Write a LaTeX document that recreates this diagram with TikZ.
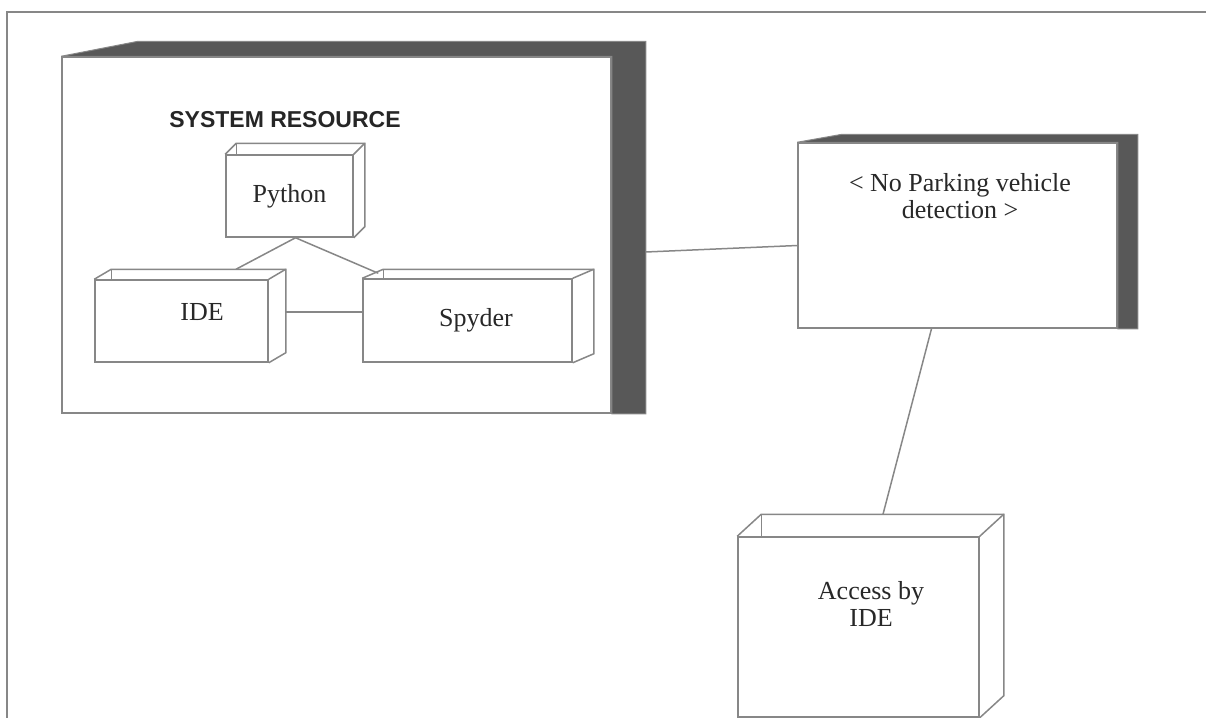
\documentclass[tikz,border=0pt]{standalone}
\usepackage{fontspec}
\setmainfont{Liberation Serif}
\newfontfamily\sysfont{Liberation Sans}
\usetikzlibrary{calc}
\definecolor{linec}{RGB}{135,135,135}
\definecolor{darkc}{RGB}{88,88,88}
\definecolor{textc}{RGB}{40,40,40}
\tikzset{
  edge/.style={draw=linec, line width=0.75pt},
  box/.style={edge, fill=white, inner sep=0pt, text=textc, font=\fontsize{13}{13.8}\selectfont, align=center},
  bignode/.style={draw=linec, line width=0.75pt, fill=white, inner sep=0pt},
  darkside/.style={fill=darkc, draw=linec, line width=0.5pt},
  border/.style={draw=linec, line width=1.2pt},
  conn/.style={edge},
  lbl/.style={text=textc, font=\fontsize{13}{13.8}\selectfont, align=center},
}
\newcommand\threed[3]{%
  \draw[edge] (#1.north west) -- ++(#2,#3) coordinate (#1bl) -- ($(#1.north east)+(#2,#3)$) -- ($(#1.south east)+(#2,#3)$) -- (#1.south east);
  \draw[edge] (#1.north east) -- ++(#2,#3);
  \draw[edge] (#1bl) -- (#1bl |- #1.north);
}
\begin{document}
\begin{tikzpicture}[x=0.5pt,y=-0.5pt]
\useasboundingbox (0,0) rectangle (1206,718);
% outer frame (top and left only)
\draw[border] (7,718) -- (7,12) -- (1206,12);

% big node: system resource
\node[bignode, minimum width=274.5pt, minimum height=178pt] (sys) at (336.5,235) {};
\fill[darkside] (sys.north west) -- ++(77,-15) -- ($(sys.north east)+(34,-15)$) -- ($(sys.south east)+(34,0)$) -- (sys.south east) -- (sys.north east) -- cycle;
\node[font=\sysfont\bfseries\fontsize{11.5}{13}\selectfont, text=black!85] (sysT) at (285,120) {SYSTEM RESOURCE};

% inner boxes
\node[box, minimum width=63.5pt, minimum height=41pt] (py) at (289.5,196) {Python};
\threed{py}{11}{-11}
\node[box, minimum width=86.5pt, minimum height=41pt,
      label={[lbl, xshift=10.25pt, yshift=4.5pt]center:IDE}] (ide) at (181.5,321) {};
\threed{ide}{17}{-10}
\node[box, minimum width=104.5pt, minimum height=41.5pt,
      label={[lbl, xshift=4.25pt]center:Spyder}] (sp) at (467.5,320.5) {};
\threed{sp}{21}{-9}

% right node
\node[bignode, minimum width=159.5pt, minimum height=92.5pt,
      label={[lbl, xshift=1.25pt, yshift=19.75pt]center:{< No Parking vehicle\\ detection >}}] (np) at (957.5,235.5) {};
\fill[darkside] (np.north west) -- ++(45,-8) -- ($(np.north east)+(20,-8)$) -- ($(np.south east)+(20,0)$) -- (np.south east) -- (np.north east) -- cycle;

% access node
\node[box, minimum width=120.5pt, minimum height=90pt,
      label={[lbl, xshift=6.25pt, yshift=11.5pt]center:{Access by\\ IDE}}] (acc) at (858.5,627) {};
\threed{acc}{24}{-22}

% connectors
\draw[conn] ([xshift=3pt]py.south) -- ([xshift=27.25pt,yshift=5pt]ide.north);
\draw[conn] ([xshift=3pt]py.south) -- ([xshift=8pt,yshift=2.5pt]sp.north west);
\draw[conn] ([xshift=8pt,yshift=4.5pt]ide.east) -- ([yshift=4.25pt]sp.west);
\draw[conn] ($(sys.east)+(34,17)$) -- ([yshift=-5pt]np.west);
\draw[conn] ([xshift=-13pt]np.south) -- ([xshift=12.25pt,yshift=11pt]acc.north);
\end{tikzpicture}
\end{document}
